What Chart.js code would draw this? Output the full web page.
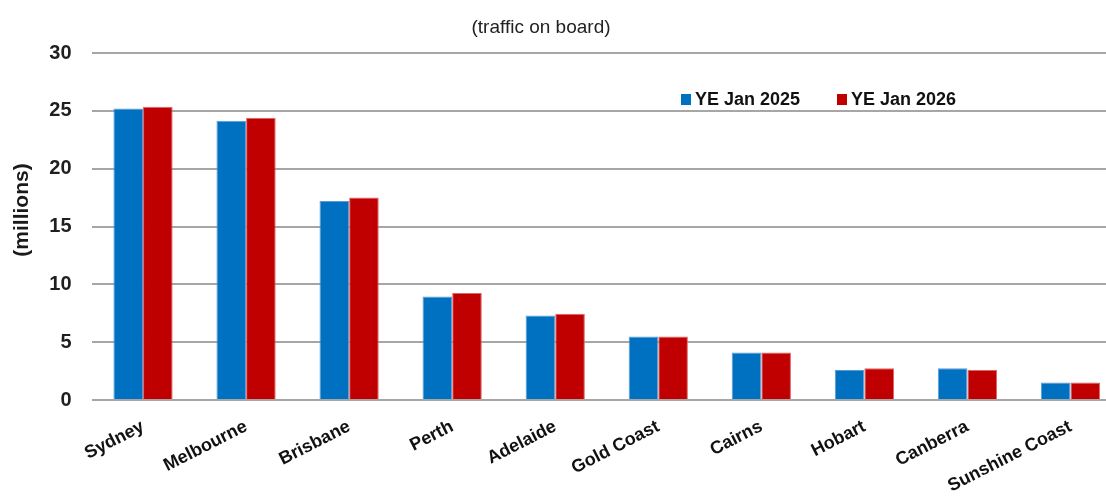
<!DOCTYPE html>
<html><head><meta charset="utf-8">
<script src="https://cdn.jsdelivr.net/npm/chart.js@4.4.0/dist/chart.umd.min.js"></script>
<style>html,body{margin:0;padding:0;background:#fff;overflow:hidden;width:1106px;height:496px}canvas{display:block}</style>
</head><body>
<canvas id="c" width="1122" height="496"></canvas>
<script>
const categories = ['Sydney','Melbourne','Brisbane','Perth','Adelaide','Gold Coast','Cairns','Hobart','Canberra','Sunshine Coast'];
const seriesLabels = ['YE Jan 2025','YE Jan 2026'];
const ye2025 = [25.2, 24.15, 17.2, 8.95, 7.3, 5.5, 4.1, 2.6, 2.75, 1.52];
const ye2026 = [25.35, 24.4, 17.5, 9.25, 7.45, 5.5, 4.1, 2.75, 2.6, 1.52];
const yTicks = [0, 5, 10, 15, 20, 25, 30];
const subtitleText = '(traffic on board)';
const yTitleText = '(millions)';
const seriesColors = ['#0070c0', '#c00000'];
const seriesEdges = ['#5b9bd5', '#e06666'];

const overlay = {
  id: 'overlay',
  afterDraw(chart) {
    const ctx = chart.ctx;
    ctx.save();
    ctx.fillStyle = '#222';
    ctx.font = '19px "Liberation Sans", Arial, sans-serif';
    ctx.textAlign = 'center';
    ctx.textBaseline = 'middle';
    ctx.fillText(subtitleText, 541, 28);
    ctx.save();
    ctx.translate(22, 210);
    ctx.rotate(-Math.PI / 2);
    ctx.font = 'bold 21px "Liberation Sans", Arial, sans-serif';
    ctx.fillStyle = '#1a1a1a';
    ctx.fillText(yTitleText, 0, 0);
    ctx.restore();
    const lx = [681, 837];
    ctx.font = 'bold 18px "Liberation Sans", Arial, sans-serif';
    ctx.textAlign = 'left';
    chart.data.datasets.forEach((ds, i) => {
      ctx.fillStyle = ds.backgroundColor;
      ctx.fillRect(lx[i], 94, 10, 11);
      ctx.fillStyle = '#111';
      ctx.fillText(ds.label, lx[i] + 14, 100);
    });
    ctx.restore();
  }
};

new Chart(document.getElementById('c'), {
  type: 'bar',
  data: {
    labels: categories,
    datasets: [
      { label: seriesLabels[0], data: ye2025, backgroundColor: seriesColors[0], borderColor: seriesEdges[0], borderWidth: 1 },
      { label: seriesLabels[1], data: ye2026, backgroundColor: seriesColors[1], borderColor: seriesEdges[1], borderWidth: 1 }
    ]
  },
  options: {
    responsive: false,
    animation: false,
    devicePixelRatio: 1,
    layout: { padding: { top: 53, left: 0, right: 0, bottom: 0 } },
    plugins: { legend: { display: false }, title: { display: false }, tooltip: { enabled: false } },
    datasets: { bar: { barPercentage: 1, categoryPercentage: 0.575 } },
    scales: {
      x: {
        grid: { display: false, drawTicks: false },
        border: { display: false },
        ticks: {
          minRotation: 27, maxRotation: 27, padding: 16, color: '#111',
          font: { family: '"Liberation Sans", Arial, sans-serif', size: 18, weight: 'bold' }
        },
        afterFit(scale) { scale.height = 96; }
      },
      y: {
        min: 0, max: 30,
        afterBuildTicks(scale) { scale.ticks = yTicks.map(v => ({ value: v })); },
        grid: { color: '#a6a6a6', lineWidth: 2, drawTicks: false },
        border: { display: false },
        ticks: {
          padding: 20, color: '#1f1f1f',
          font: { family: '"Liberation Sans", Arial, sans-serif', size: 20, weight: 'bold' }
        },
        afterFit(scale) { scale.width = 91.5; }
      }
    }
  },
  plugins: [overlay]
});
</script>
</body></html>
